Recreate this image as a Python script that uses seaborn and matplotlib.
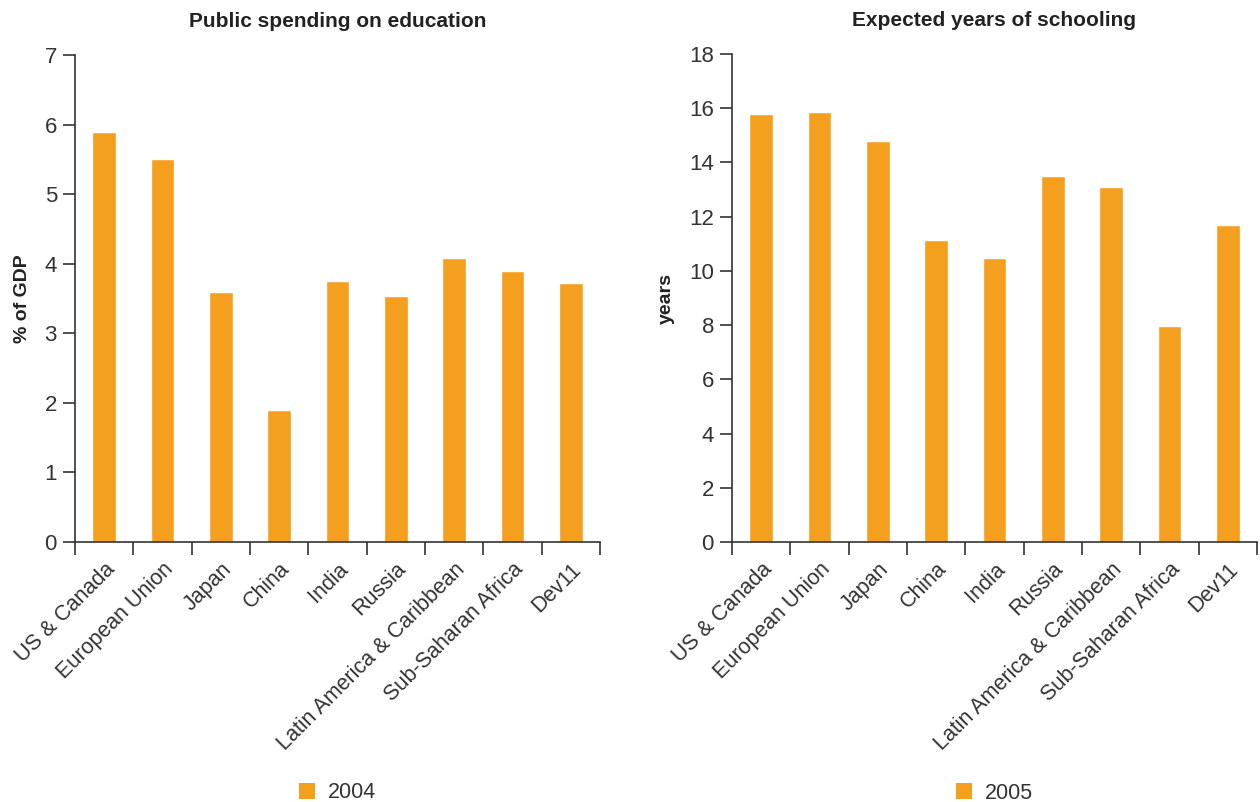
import matplotlib
matplotlib.use("Agg")
import matplotlib.pyplot as plt
import seaborn as sns
import pandas as pd
from matplotlib.patches import Patch

regions = ["US & Canada", "European Union", "Japan", "China", "India",
           "Russia", "Latin America & Caribbean", "Sub-Saharan Africa", "Dev11"]
spending_2004 = [5.9, 5.5, 3.6, 1.9, 3.75, 3.53, 4.08, 3.9, 3.72]
schooling_2005 = [15.8, 15.85, 14.8, 11.15, 10.48, 13.5, 13.1, 7.97, 11.7]

orange = "#F59F1E"
dark = "#333333"

sns.set_theme(style="white")
plt.rcParams["font.family"] = ["Liberation Sans", "DejaVu Sans"]

fig = plt.figure(figsize=(12.6, 8.02), dpi=100)
ax1 = fig.add_axes([75 / 1260, 260 / 802, 525 / 1260, 487 / 802])
ax2 = fig.add_axes([732 / 1260, 260 / 802, 525 / 1260, 488 / 802])

panels = [
    (ax1, spending_2004, "Public spending on education", "% of GDP", "2004", 7, 1),
    (ax2, schooling_2005, "Expected years of schooling", "years", "2005", 18, 2),
]

for ax, vals, title, ylabel, year, ymax, step in panels:
    df = pd.DataFrame({"region": regions, "value": vals})
    sns.barplot(data=df, x="region", y="value", color=orange, saturation=1,
                width=0.41, ax=ax)
    ax.set_xlim(-0.5, len(regions) - 0.5)
    ax.set_ylim(0, ymax)
    ax.set_yticks(range(0, ymax + 1, step))
    ax.set_xticks([i - 0.5 for i in range(len(regions) + 1)])
    ax.set_xticklabels([])
    ax.set_xticks(range(len(regions)), minor=True)
    ax.set_xticklabels(regions, minor=True, rotation=45, ha="right",
                       rotation_mode="anchor", fontsize=15.5, color=dark)
    ax.tick_params(axis="x", which="major", bottom=True, direction="out",
                   length=9, width=1.2, color=dark)
    ax.tick_params(axis="x", which="minor", bottom=True, length=0, pad=12)
    ax.tick_params(axis="y", left=True, direction="out", length=9, width=1.2,
                   color=dark, labelsize=16, labelcolor=dark, pad=4)
    for s in ["top", "right"]:
        ax.spines[s].set_visible(False)
    for s in ["left", "bottom"]:
        ax.spines[s].set_color(dark)
        ax.spines[s].set_linewidth(1.2)
    ax.set_title(title, fontsize=15, fontweight="bold", color="#222222", pad=20)
    ax.set_xlabel("")
    ax.set_ylabel(ylabel, fontsize=14, fontweight="bold", color="#222222", labelpad=10)
    ax.legend(handles=[Patch(facecolor=orange, edgecolor="none", label=year)],
              loc="center", bbox_to_anchor=(0.5, -0.515), frameon=False,
              fontsize=15.5, handlelength=0.75, handleheight=0.75,
              handletextpad=0.6, labelcolor=dark)

fig.savefig("out.png", dpi=100)
